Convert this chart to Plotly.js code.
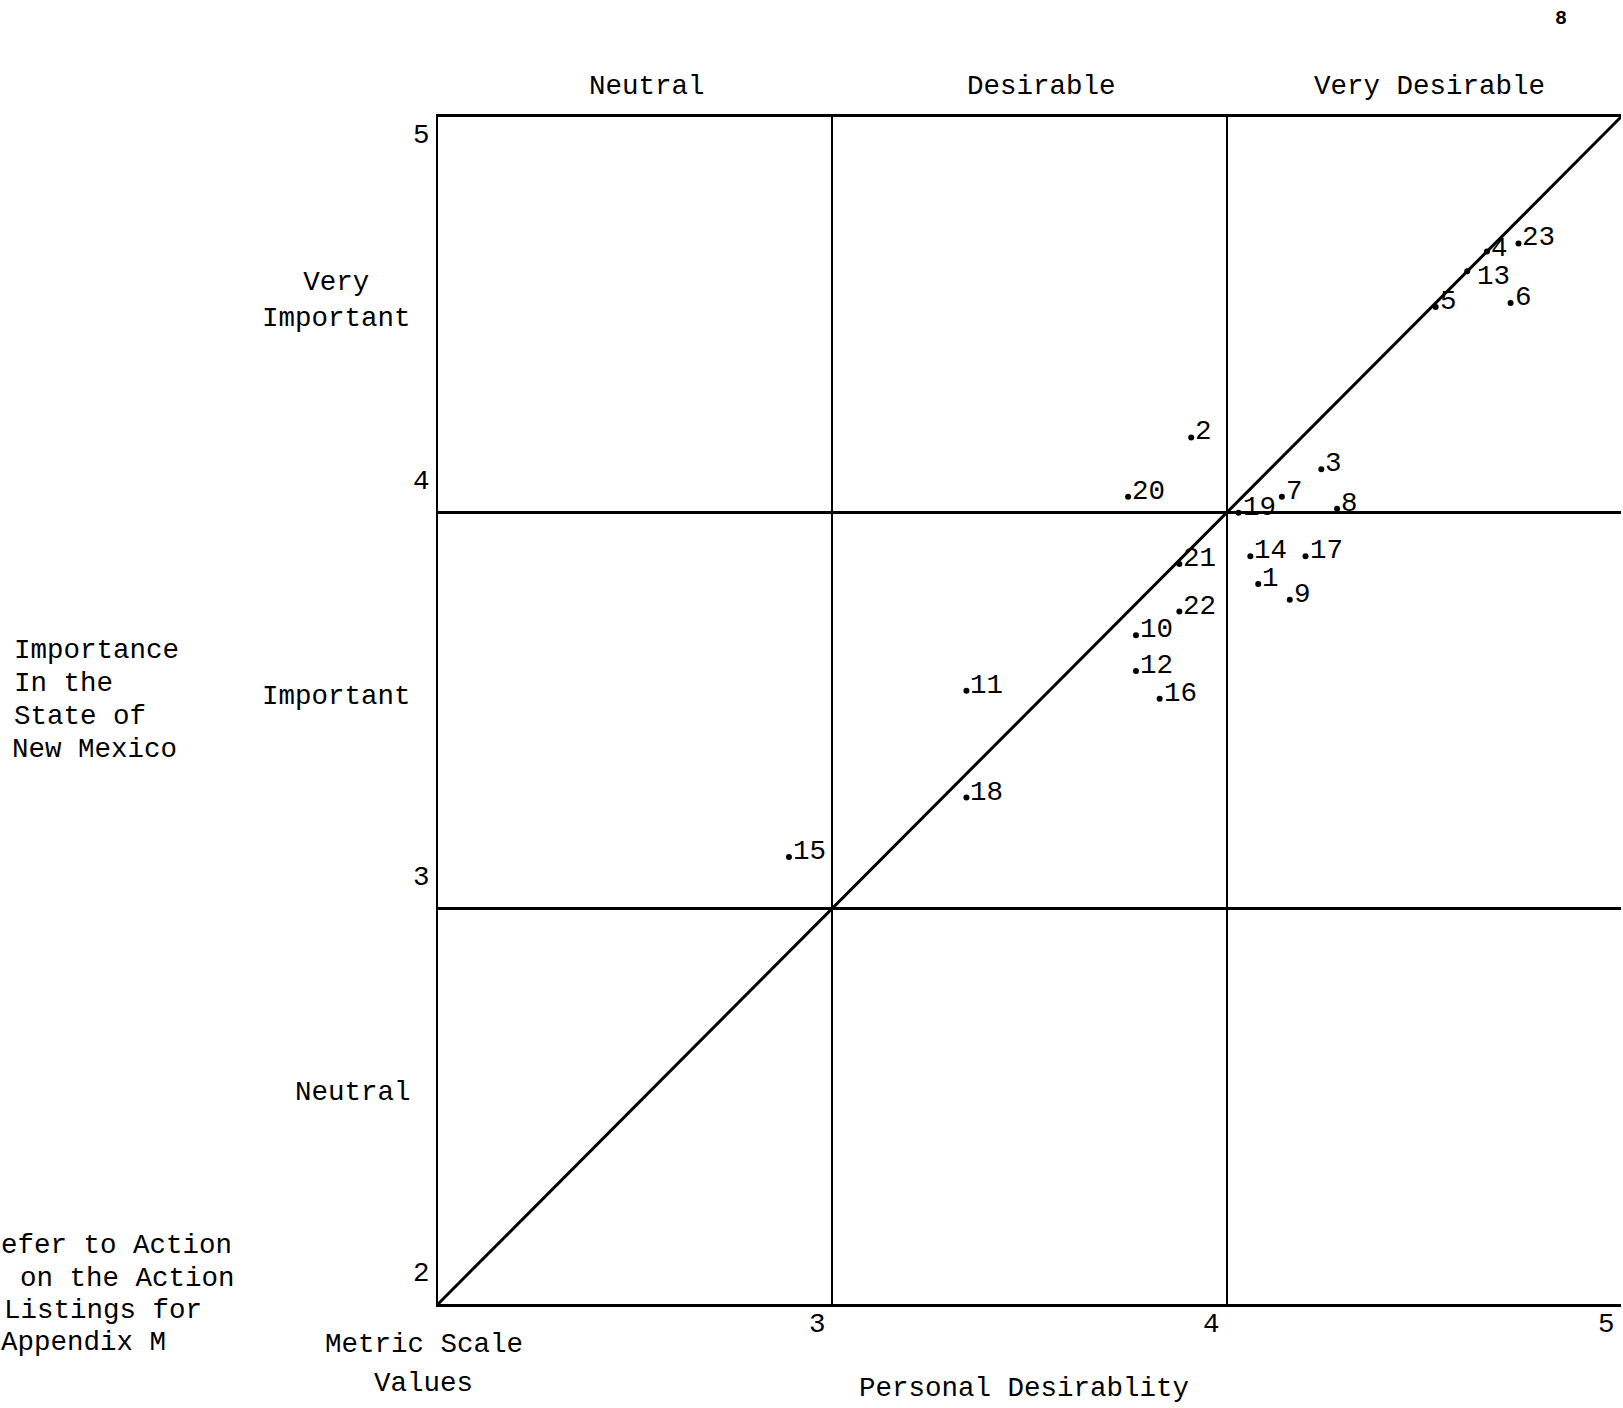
<!DOCTYPE html>
<html>
<head>
<meta charset="utf-8">
<script src="https://cdn.plot.ly/plotly-3.0.1.min.js"></script>
<style>
  html, body { margin: 0; padding: 0; background: #ffffff; }
  #chart { width: 1623px; height: 1408px; }
</style>
</head>
<body>
<div id="chart"></div>
<script>
// ---------------- data ----------------
const actionIds    = [1, 2, 3, 4, 5, 6, 7, 8, 9, 10, 11, 12, 13, 14, 15, 16, 17, 18, 19, 20, 21, 22, 23];
const desirability = [4.08, 3.91, 4.24, 4.66, 4.53, 4.72, 4.14, 4.28, 4.16, 3.77, 3.34, 3.77, 4.61, 4.06, 2.89, 3.83, 4.20, 3.34, 4.03, 3.75, 3.88, 3.88, 4.74];
const importance   = [3.82, 4.19, 4.11, 4.66, 4.52, 4.53, 4.04, 4.01, 3.78, 3.69, 3.55, 3.60, 4.61, 3.89, 3.13, 3.53, 3.89, 3.28, 4.00, 4.04, 3.87, 3.75, 4.68];

const diagX = [2, 5];
const diagY = [2, 5];

const gridVals   = [3, 4];
const xTickVals  = [3, 4, 5];
const xTickText  = ["3", "4", "5"];
const yTickVals  = [2, 3, 4, 5];
const yTickText  = ["2", "3", "4", "5"];

const colLabels  = ["Neutral", "Desirable", "Very Desirable"];
const colCenters = [2.5, 3.5, 4.5];
const rowLabels  = ["Very<br>Important", "Important", "Neutral"];
const rowCenters = [4.5, 3.5, 2.5];

// ---------------- layout geometry / style ----------------
const W = 1623, H = 1408;
const L = 438, R = 1621, T = 117, B = 1304;
const FONT = "Liberation Mono, Courier New, monospace";
const FS = 27.5;
const yTickShift = [31, 31, 31, -18];
const colShift = [12, 12, 6];
const labelYShiftDefault = -11;
const labelYShiftOverride = { 4: -13, 13: -22, 23: -10 };
const labelXShiftOverride = { 13: 9 };

function px2paper(px) { return (px - L) / (R - L); }
function py2paper(py) { return (B - py) / (B - T); }

const annotations = [];

function txt(text, px, py, xanchor, size, align) {
  annotations.push({
    xref: "paper", yref: "paper",
    x: px2paper(px), y: py2paper(py),
    xanchor: xanchor, yanchor: "middle", borderpad: 0,
    text: text, showarrow: false, align: align || "left",
    font: { family: FONT, size: size || FS, color: "#000000" }
  });
}

// point labels
actionIds.forEach((id, i) => {
  annotations.push({
    xref: "x", yref: "y",
    x: desirability[i], y: importance[i],
    xanchor: "left", yanchor: "bottom",
    xshift: (id in labelXShiftOverride) ? labelXShiftOverride[id] : 3,
    yshift: (id in labelYShiftOverride) ? labelYShiftOverride[id] : labelYShiftDefault,
    borderpad: 0,
    text: String(id), showarrow: false,
    font: { family: FONT, size: FS, color: "#000000" }
  });
});

// x tick labels
xTickVals.forEach((v, i) => {
  annotations.push({
    xref: "x", yref: "paper", x: v, y: py2paper(1325),
    xanchor: "center", yanchor: "middle", xshift: -15,
    text: xTickText[i], showarrow: false,
    font: { family: FONT, size: FS, color: "#000000" }
  });
});

// y tick labels
yTickVals.forEach((v, i) => {
  annotations.push({
    xref: "paper", yref: "y", x: px2paper(421), y: v,
    xanchor: "center", yanchor: "middle", yshift: yTickShift[i],
    text: yTickText[i], showarrow: false,
    font: { family: FONT, size: FS, color: "#000000" }
  });
});

// column headers
colLabels.forEach((t, i) => {
  annotations.push({
    xref: "x", yref: "paper", x: colCenters[i], y: py2paper(86),
    xanchor: "center", yanchor: "middle", xshift: colShift[i],
    text: t, showarrow: false,
    font: { family: FONT, size: FS, color: "#000000" }
  });
});

// row headers
rowLabels.forEach((t, i) => {
  annotations.push({
    xref: "paper", yref: "y", x: px2paper(413), y: rowCenters[i],
    xanchor: "right", yanchor: "middle", yshift: 14,
    text: t, showarrow: false, align: "center",
    font: { family: FONT, size: FS, color: "#000000" }
  });
});

// axis titles and notes
txt("Importance", 13, 650, "left");
txt("In the", 13, 683, "left");
txt("State of", 13, 716, "left");
txt("New Mexico", 11, 749, "left");

txt("efer to Action", 0, 1245, "left");
txt("on the Action", 19, 1278, "left");
txt("Listings for", 3, 1310, "left");
txt("Appendix M", 0, 1343, "left");

txt("Metric Scale", 424, 1345, "center");
txt("Values", 423, 1383, "center");
txt("Personal Desirablity", 1024, 1388, "center");
txt("<b>8</b>", 1561, 18, "center", 20);

const traces = [
  {
    type: "scatter", mode: "lines",
    x: diagX, y: diagY,
    line: { color: "#000000", width: 3 },
    hoverinfo: "skip"
  },
  {
    type: "scatter", mode: "markers",
    x: desirability, y: importance,
    text: actionIds.map(String),
    marker: { color: "#000000", size: 6 },
    cliponaxis: false
  }
];

const layout = {
  width: W, height: H,
  margin: { l: L, r: W - R, t: T, b: H - B, pad: 0 },
  paper_bgcolor: "#ffffff",
  plot_bgcolor: "#ffffff",
  showlegend: false,
  xaxis: {
    range: [2, 5], fixedrange: true,
    tickmode: "array", tickvals: gridVals,
    showticklabels: false, ticks: "",
    showgrid: true, gridcolor: "#000000", gridwidth: 2,
    zeroline: false,
    showline: true, linecolor: "#000000", linewidth: 3, mirror: true
  },
  yaxis: {
    range: [2, 5], fixedrange: true,
    tickmode: "array", tickvals: gridVals,
    showticklabels: false, ticks: "",
    showgrid: true, gridcolor: "#000000", gridwidth: 3,
    zeroline: false,
    showline: true, linecolor: "#000000", linewidth: 2, mirror: false
  },
  annotations: annotations
};

Plotly.newPlot("chart", traces, layout, { staticPlot: true, displayModeBar: false });
</script>
</body>
</html>
